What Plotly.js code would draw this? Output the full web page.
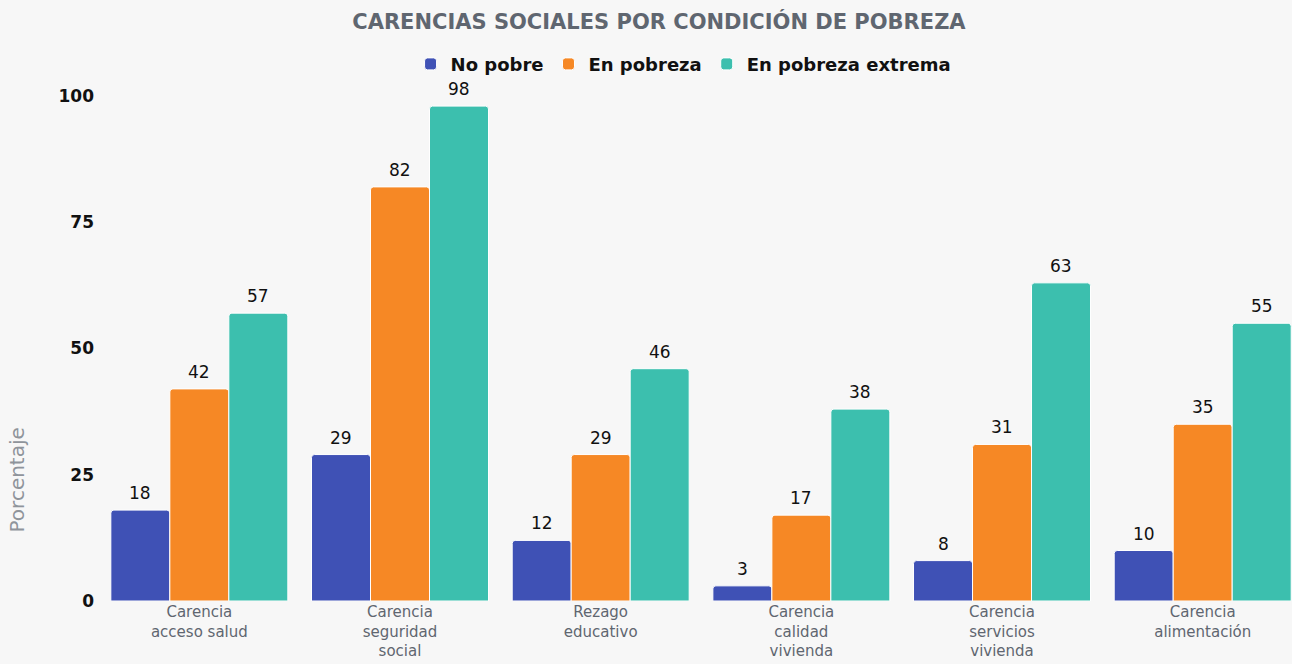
<!DOCTYPE html>
<html>
<head>
<meta charset="utf-8">
<script src="https://cdn.plot.ly/plotly-3.0.1.min.js"></script>
<style>html,body{margin:0;padding:0;background:#f7f7f7;}#chart{width:1292px;height:664px;}</style>
</head>
<body>
<div id="chart"></div>
<script>
const categories = ["Carencia<br>acceso salud", "Carencia<br>seguridad<br>social", "Rezago<br>educativo", "Carencia<br>calidad<br>vivienda", "Carencia<br>servicios<br>vivienda", "Carencia<br>alimentación"];
const seriesNames = ["No pobre", "En pobreza", "En pobreza extrema"];
const noPobre = [18, 29, 12, 3, 8, 10];
const enPobreza = [42, 82, 29, 17, 31, 35];
const enPobrezaExtrema = [57, 98, 46, 38, 63, 55];
const colors = ["#3F51B5", "#F68825", "#3CBFAE"];
const yTicks = [0, 25, 50, 75, 100];

const FONT = "'DejaVu Sans', Inter, sans-serif";
const allSeries = [noPobre, enPobreza, enPobrezaExtrema];
const idx = categories.map((_, i) => i);

const traces = allSeries.map((vals, s) => ({
  type: "bar",
  name: seriesNames[s],
  x: idx,
  y: vals,
  marker: {color: colors[s], line: {color: "#ffffff", width: 1}, cornerradius: 3},
  hoverinfo: "y+name"
}));

const n = allSeries.length;
const bargap = 0.118;
const groupW = 1 - bargap;
const annotations = [];
allSeries.forEach((vals, s) => {
  vals.forEach((v, i) => {
    annotations.push({
      x: i - groupW / 2 + groupW / n * (s + 0.5),
      y: v,
      xref: "x", yref: "y",
      text: String(v),
      showarrow: false,
      yanchor: "bottom",
      yshift: 5,
      font: {family: FONT, size: 17, color: "#111111"}
    });
  });
});
annotations.push({
  text: "Porcentaje",
  xref: "paper", yref: "paper",
  x: -0.069, y: 0.24,
  xanchor: "center", yanchor: "middle",
  textangle: -90,
  showarrow: false,
  font: {family: FONT, size: 20, color: "#8f949b"}
});

const layout = {
  width: 1292, height: 664,
  paper_bgcolor: "#f7f7f7",
  plot_bgcolor: "#f7f7f7",
  font: {family: FONT},
  margin: {l: 99, r: 0, t: 96, b: 63},
  title: {
    text: "<b>CARENCIAS SOCIALES POR CONDICIÓN DE POBREZA</b>",
    x: 0.51, xanchor: "center",
    y: 0.967, yanchor: "middle",
    font: {family: FONT, size: 21, color: "#5f6670"}
  },
  showlegend: true,
  legend: {
    orientation: "h",
    x: 0.49, xanchor: "center",
    y: 1.063, yanchor: "middle",
    font: {family: FONT, size: 18, color: "#111111", weight: "bold"},
    itemwidth: 30,
    bgcolor: "rgba(0,0,0,0)"
  },
  barmode: "group",
  bargap: bargap,
  bargroupgap: 0,
  xaxis: {
    tickmode: "array",
    tickvals: idx,
    ticktext: categories,
    range: [-0.5, 5.445],
    showgrid: false, zeroline: false, showline: false,
    ticks: "",
    ticklabelstandoff: 0,
    tickfont: {family: FONT, size: 15, color: "#5f6670"},
    fixedrange: true
  },
  yaxis: {
    range: [0, 100],
    tickmode: "array",
    tickvals: yTicks,
    ticktext: yTicks.map(String),
    showgrid: false, zeroline: false, showline: false,
    ticks: "",
    ticklabelstandoff: 4,
    tickfont: {family: FONT, size: 17, color: "#111111", weight: "bold"},
    fixedrange: true
  },
  annotations: annotations
};

Plotly.newPlot("chart", traces, layout, {displayModeBar: false, responsive: false});
</script>
</body>
</html>
